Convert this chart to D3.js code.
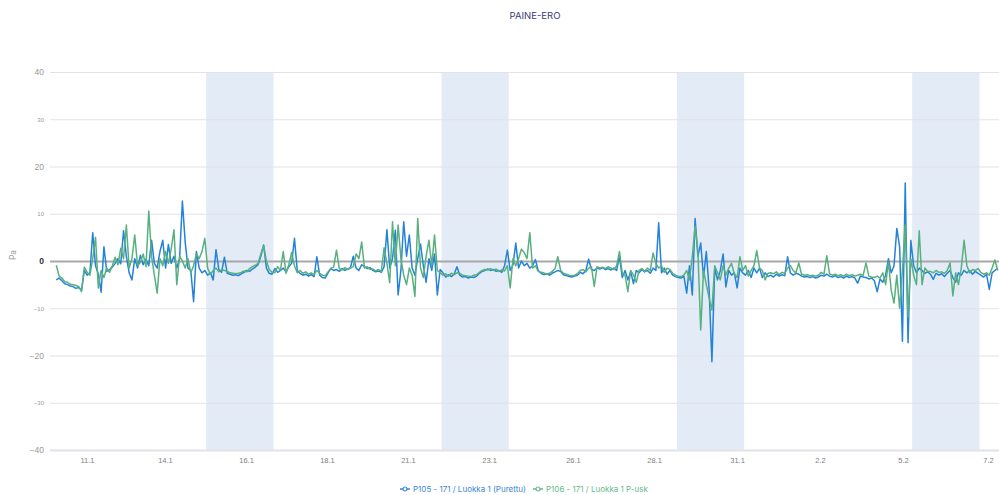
<!DOCTYPE html>
<html>
<head>
<meta charset="utf-8">
<script src="https://cdn.jsdelivr.net/npm/d3@7"></script>
<style>
  body { margin: 0; background: #fff; }
  svg { display: block; font-family: Inter, "Noto Sans", sans-serif; }
</style>
</head>
<body>
<svg id="chart" width="999" height="495"></svg>
<script>
// Pressure difference readings, one sample every two hours (one row = one day)
const startTime = "2022-01-10T21:00";
const stepHours = 2;

const p105 = [
  -4.0, -3.6, -4.2, -4.8, -5.0, -5.3, -5.4, -5.8, -5.6, -6.2, -2.0, -3.0,
  -2.5, 6.0, -1.0, -2.8, -6.6, 3.0, -2.2, -1.8, -1.3, -0.5, 0.5, -0.6,
  6.4, 1.0, -2.5, -4.0, 0.5, -1.5, 1.2, -0.8, 0.4, -1.0, 4.4, -0.5,
  -1.5, 2.0, 4.4, -1.5, 3.5, -0.5, 1.0, -1.5, 0.5, 12.7, 4.0, -1.5,
  -2.0, -8.6, 2.0, -1.5, -2.5, -2.0, -3.0, -2.5, -4.0, 2.4, -1.8, -2.4,
  0.8, -2.6, -2.8, -3.0, -2.9, -3.1, -2.7, -2.4, -2.0, -2.2, -1.7, -1.3,
  -0.8, 1.0, 3.4, -1.5, -2.6, -2.8, -1.6, -2.4, -2.0, -1.5, -2.3, -1.2,
  -0.5, 4.8, -2.0, -2.6, -3.0, -2.8, -3.2, -2.9, -3.3, 0.9, -3.0, -3.5,
  -3.6, -2.5, -1.6, -2.0, -1.8, -2.2, -1.6, -2.0, -1.7, -1.4, 1.0, -1.5,
  -2.0, -0.8, -1.2, -1.6, -1.4, -2.0, -2.3, -2.1, -2.4, -1.2, 6.6, -1.5,
  0.5, 6.5, -7.2, -2.0, 8.3, 1.0, 5.5, -1.5, -3.0, 0.5, 3.6, -1.0,
  -4.5, 0.5, -2.0, 1.5, -7.2, -1.8, -2.5, -3.4, -2.9, -3.3, -2.8, -1.2,
  -3.0, -3.4, -3.3, -3.6, -3.4, -3.5, -3.2, -2.6, -2.2, -2.0, -1.7, -2.0,
  -1.8, -2.2, -2.0, -2.4, -1.0, 2.3, -2.0, -0.8, 3.8, -1.5, 0.0, -1.0,
  -0.5, -1.5, -1.0, 0.3, -2.0, -2.6, -2.9, -2.7, -3.0, -2.6, -2.3, -2.0,
  -2.2, -2.9, -3.1, -3.3, -3.4, -3.2, -3.0, -2.4, -2.7, -2.0, 0.4, -1.8,
  -2.0, -1.5, -1.7, -1.4, -1.8, -1.6, -1.9, -1.5, -2.0, 1.0, -3.5, -2.0,
  -4.0, -2.2, -4.8, -2.0, -2.5, -1.8, -2.3, -2.0, -2.6, -1.5, -2.0, 8.1,
  -2.5, -1.5, -2.8, -2.0, -3.0, -3.3, -3.5, -3.6, -3.2, -6.8, -1.0, -7.2,
  9.0, 1.0, 3.8, -3.5, 2.0, -6.0, -21.3, -1.5, -4.0, -2.0, 1.5, -5.5,
  -2.0, -3.0, -2.5, -5.7, -1.5, -2.5, -3.0, -2.0, -3.5, -1.5, -2.5, -1.5,
  -3.5, -2.5, -3.3, -3.0, -3.4, -2.8, -3.2, -2.9, -3.1, 0.9, -2.5, -3.0,
  -2.6, -2.8, -3.2, -3.4, -3.3, -3.5, -3.3, -3.6, -3.4, -3.0, -3.2, -2.8,
  -3.2, -3.4, -3.1, -3.5, -3.3, -3.6, -3.2, -3.5, -3.3, -3.6, -4.7, -3.2,
  -3.4, -3.5, -3.8, -3.6, -4.2, -6.5, -3.8, -4.5, -3.0, 0.5, -2.5, -1.0,
  6.9, 3.0, -17.0, 16.5, -17.3, 4.4, -1.0, -2.5, -1.5, -2.0, -2.6, -2.3,
  -2.8, -3.9, -2.6, -3.0, -2.7, -3.3, -2.6, -2.0, -3.5, -4.5, -2.5, -3.0,
  -2.0, -2.5, -2.0, -2.8, -2.2, -2.6, -3.0, -3.4, -2.8, -6.0, -2.5, -2.0,
  -1.5
];

const p106 = [
  -0.9, -3.2, -3.6, -4.4, -4.5, -4.9, -5.0, -5.2, -5.4, -6.5, -1.3, -2.4,
  -3.0, 0.5, 5.0, -5.7, -2.0, -3.5, -1.5, -2.4, -1.0, 0.8, -0.8, 2.7,
  0.5, 7.6, -1.5, 0.5, 5.5, -1.0, -0.3, 1.5, -1.2, 10.6, 1.0, -3.0,
  -6.8, 0.5, -1.0, 2.0, -0.5, 2.5, 6.6, -5.0, 1.0, 0.0, -1.5, 0.5,
  -2.5, -1.0, 1.5, 0.5, 2.0, 4.8, -1.5, -2.8, -2.0, -1.5, -2.3, -1.8,
  -2.0, -2.2, -2.5, -2.6, -2.7, -2.6, -2.4, -2.1, -2.3, -1.6, -1.2, -0.9,
  -0.5, 1.5, 3.2, 0.0, -1.8, -2.4, -2.5, -1.2, -2.0, 2.0, -2.6, -0.8,
  1.8, -1.0, -2.5, -2.0, -2.6, -2.3, -2.8, -2.5, -2.9, -2.0, -2.6, -3.0,
  -3.1, -2.3, -1.5, -1.3, 2.3, -1.6, -1.9, -1.4, -1.8, -1.5, -1.2, 1.5,
  0.5, 4.0, -1.5, -1.2, -1.8, -1.7, -2.1, -1.8, -2.2, 2.8, -0.5, -4.6,
  8.3, -1.0, 7.6, 0.5, -3.0, -5.0, -1.5, -3.0, -7.5, 9.0, -1.5, -3.5,
  1.0, 4.4, -1.0, 5.5, -2.0, -2.5, -3.0, -2.7, -3.2, -2.6, -2.9, -2.5,
  -2.6, -3.0, -3.1, -3.2, -3.3, -3.0, -2.9, -2.4, -2.0, -1.8, -1.9, -1.6,
  -2.0, -1.7, -2.2, -1.9, -2.1, -1.0, -5.7, 0.5, -1.0, 0.5, 2.5, 1.8,
  0.5, 6.0, -1.5, -1.0, -2.2, -2.4, -2.5, -2.8, -2.6, -2.2, -1.6, 0.9,
  -2.0, -2.6, -2.8, -3.0, -3.1, -3.0, -2.7, -2.0, -1.8, -2.3, -1.5, -1.2,
  -5.4, -1.2, -1.5, -1.3, -1.6, -1.2, -1.5, -1.8, -1.0, 2.0, -2.5, -3.0,
  -6.5, -2.0, -3.0, -4.5, -2.0, -1.6, -2.2, -1.5, -2.0, 1.7, -0.5, -1.5,
  -1.0, -2.4, -1.5, -1.8, -2.6, -3.0, -3.2, -3.3, -3.0, -2.0, -4.0, 1.0,
  7.3, 2.0, -14.6, -2.0, -5.0, -7.8, -10.4, -1.0, -2.5, -4.0, -1.0, -3.0,
  -1.5, -0.5, -2.8, -3.5, 0.9, -2.0, -1.0, -3.2, -2.0, -1.0, 2.2, -1.5,
  -2.0, -4.0, -2.6, -2.5, -2.7, -2.3, -2.9, -2.4, -2.6, -1.5, -1.0, -2.0,
  -2.5, -0.4, -2.8, -3.0, -2.9, -3.1, -3.0, -3.2, -3.0, -2.4, -2.8, 1.1,
  -2.7, -3.0, -2.8, -3.1, -2.9, -3.2, -2.8, -3.1, -2.9, -3.2, -3.0, -2.8,
  -3.0, -0.4, -3.2, -3.4, -3.5, -3.2, -3.6, -2.5, -5.0, -0.2, -6.2, -8.9,
  -3.0, -10.0, -2.0, 7.6, -11.8, 0.5, -3.0, -5.0, 6.4, -5.0, -1.5, -2.2,
  -2.2, -2.5, -2.0, -2.4, -2.3, -2.6, -2.0, -0.4, -7.4, -2.5, -5.0, -1.5,
  4.4, -1.0, -2.5, -1.8, -2.0, -1.6, -2.4, -2.8, -2.5, -3.0, -1.5, 0.2,
  -2.0
];

const seriesNames = ["P105 - 171 / Luokka 1 (Purettu)", "P106 - 171 / Luokka 1 P-usk"];
const seriesColors = ["#2483d9", "#58b07f"];
const legendColors = ["#3b86d6", "#66b98b"];

// Weekend shading
const weekendBands = [
  ["2022-01-15T08:00", "2022-01-17T08:00"],
  ["2022-01-22T08:00", "2022-01-24T08:00"],
  ["2022-01-29T08:00", "2022-01-31T08:00"],
  ["2022-02-05T08:00", "2022-02-07T08:00"]
];

const tickTimes = [
  "2022-01-11T18:55", "2022-01-14T02:35", "2022-01-16T12:25", "2022-01-18T22:13",
  "2022-01-21T08:03", "2022-01-23T17:53", "2022-01-26T05:50", "2022-01-28T15:40",
  "2022-01-31T02:55", "2022-02-02T14:10", "2022-02-05T01:25", "2022-02-07T14:05"
];
const timeDomain = ["2022-01-10T16:30", "2022-02-07T21:56"];
const yTicks = [-40, -30, -20, -10, 0, 10, 20, 30, 40];

const parse = d3.timeParse("%Y-%m-%dT%H:%M");
const t0 = parse(startTime);
const rows = p105.map((v, i) => ({
  t: d3.timeHour.offset(t0, i * stepHours),
  a: v,
  b: p106[i]
}));

const svg = d3.select("#chart");
const plotLeft = 50, plotRight = 999, plotTop = 72, plotBottom = 450;

const x = d3.scaleTime().domain(timeDomain.map(parse)).range([plotLeft, plotRight]);
const y = d3.scaleLinear().domain([-40, 40]).range([plotBottom, plotTop]);

// weekend bands
svg.append("g").selectAll("rect").data(weekendBands).join("rect")
  .attr("x", d => x(parse(d[0])))
  .attr("width", d => x(parse(d[1])) - x(parse(d[0])))
  .attr("y", plotTop)
  .attr("height", plotBottom - plotTop)
  .attr("fill", "#e3ebf6");

// horizontal grid + value labels
const yAxis = svg.append("g")
  .attr("transform", `translate(${plotLeft},0)`)
  .call(d3.axisLeft(y).tickValues(yTicks).tickSize(-(plotRight - plotLeft)).tickPadding(6).tickFormat(d3.format("d")));
yAxis.select(".domain").remove();
yAxis.selectAll(".tick line")
  .attr("stroke", d => d === 0 ? "#a8a8a8" : "#e2e2ea")
  .attr("stroke-width", d => (d === 0 || d === -40) ? 2 : 1);
yAxis.selectAll(".tick text")
  .attr("font-size", d => (d % 20 === 0) ? 8.5 : 6)
  .attr("fill", d => d === 0 ? "#333" : "#9a9a9a")
  .attr("font-weight", d => d === 0 ? 600 : 400);

// date labels
const xAxis = svg.append("g")
  .attr("transform", `translate(0,${plotBottom})`)
  .call(d3.axisBottom(x).tickValues(tickTimes.map(parse)).tickSize(0).tickPadding(8)
    .tickFormat(d3.timeFormat("%-d.%-m")));
xAxis.select(".domain").remove();
xAxis.selectAll(".tick text").attr("font-size", 7.5).attr("fill", "#808080");

// unit label
svg.append("text")
  .attr("transform", `translate(16,${y(0) - 6}) rotate(-90)`)
  .attr("text-anchor", "middle")
  .attr("font-size", 8.5)
  .attr("fill", "#9a9a9a")
  .text("Pa");

// series lines
const keys = ["a", "b"];
keys.forEach((k, i) => {
  svg.append("path")
    .datum(rows)
    .attr("fill", "none")
    .attr("stroke", seriesColors[i])
    .attr("stroke-width", 1.5)
    .attr("stroke-linejoin", "round")
    .attr("d", d3.line().x(d => x(d.t)).y(d => y(d[k])));
});

// title
svg.append("text")
  .attr("x", 535).attr("y", 19)
  .attr("text-anchor", "middle")
  .attr("font-size", 9.5)
  .attr("fill", "#3a3d78")
  .text("PAINE-ERO");

// legend
const legend = svg.append("g").attr("transform", "translate(400,489)");
const legendX = [0, 133];
seriesNames.forEach((name, i) => {
  const g = legend.append("g").attr("transform", `translate(${legendX[i]},0)`);
  g.append("line").attr("x1", 0).attr("x2", 10).attr("y1", 0).attr("y2", 0)
    .attr("stroke", legendColors[i]).attr("stroke-width", 1.5);
  g.append("circle").attr("cx", 5).attr("cy", 0).attr("r", 2)
    .attr("fill", "#fff").attr("stroke", legendColors[i]).attr("stroke-width", 1.2);
  g.append("text").attr("x", 13).attr("y", 3)
    .attr("font-size", 8).attr("fill", legendColors[i]).text(name);
});
</script>
</body>
</html>
